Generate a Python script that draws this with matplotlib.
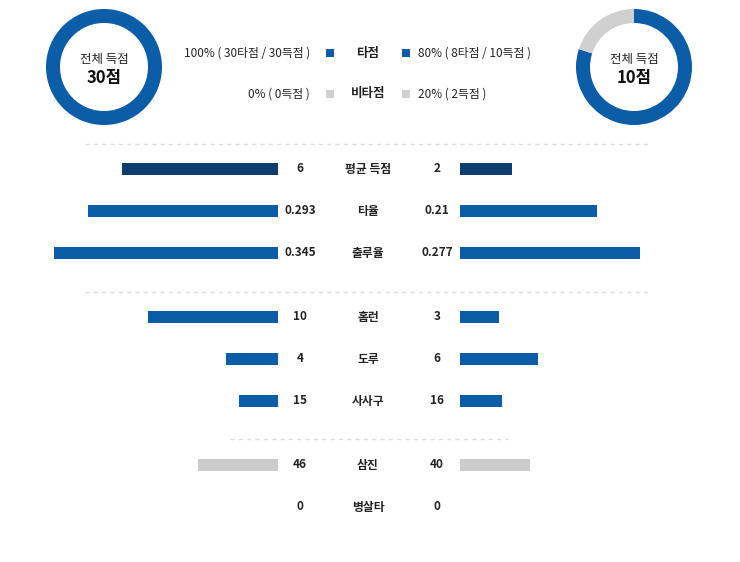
import matplotlib
matplotlib.use("Agg")
import matplotlib.pyplot as plt
from matplotlib.patches import Wedge, Rectangle

plt.rcParams['font.family'] = ['Noto Sans CJK KR', 'DejaVu Sans']

categories = ['평균 득점', '타율', '출루율', '홈런', '도루', '사사구', '삼진', '병살타']
left_vals = [6, 0.293, 0.345, 10, 4, 15, 46, 0]
right_vals = [2, 0.21, 0.277, 3, 6, 16, 40, 0]
left_labels = ['6', '0.293', '0.345', '10', '4', '15', '46', '0']
right_labels = ['2', '0.21', '0.277', '3', '6', '16', '40', '0']
row_scale = [26, 650, 650, 13, 13, 2.6, 1.75, 10]
row_y = [169, 211, 253, 317, 359, 401, 465, 507]
row_color = ['#0e3d70', '#0a5da6', '#0a5da6', '#0a5da6', '#0a5da6', '#0a5da6', '#cccccc', '#cccccc']

left_rbi = [30, 0]   # 타점, 비타점
right_rbi = [8, 2]
left_total, right_total = 30, 10
legend_left = ['100% ( 30타점 / 30득점 )', '0% ( 0득점 )']
legend_right = ['80% ( 8타점 / 10득점 )', '20% ( 2득점 )']
legend_names = ['타점', '비타점']
BLUE, GREY = '#0a5da6', '#d0d0d0'

fig = plt.figure(figsize=(7.4, 5.62), dpi=100)
ax = fig.add_axes([0, 0, 1, 1])
ax.set_xlim(0, 740); ax.set_ylim(562, 0); ax.axis('off')

def donut(cx, cy, vals, total):
    s = sum(vals); start = -90  # top of screen (y inverted); increasing angle = clockwise on screen
    for v, c in zip(vals, [BLUE, GREY]):
        if v <= 0: continue
        ang = 360 * v / s
        ax.add_patch(Wedge((cx, cy), 58, start, start + ang, width=14, color=c, lw=0))
        start += ang
    ax.text(cx, cy - 8, '전체 득점', ha='center', va='center', fontsize=9, color='#222')
    ax.text(cx, cy + 11, f'{total}점', ha='center', va='center', fontsize=12, fontweight='bold', color='#111')

donut(104, 67, left_rbi, left_total)
donut(634, 67, right_rbi, right_total)

for i, y in enumerate([53, 94]):
    c = BLUE if i == 0 else GREY
    ax.text(310, y, legend_left[i], ha='right', va='center', fontsize=8.5, color='#222')
    ax.add_patch(Rectangle((326, y - 4), 8, 8, color=c, lw=0))
    ax.text(368, y, legend_names[i], ha='center', va='center', fontsize=9, fontweight='bold', color='#222')
    ax.add_patch(Rectangle((402, y - 4), 8, 8, color=c, lw=0))
    ax.text(418, y, legend_right[i], ha='left', va='center', fontsize=8.5, color='#222')

for x0, x1, y in [(85, 650, 144), (85, 650, 292), (230, 508, 439)]:
    ax.plot([x0, x1], [y, y], ls=(0, (3, 3)), color='#dddddd', lw=1)

for i, cat in enumerate(categories):
    y = row_y[i]
    lw_ = left_vals[i] * row_scale[i]; rw_ = right_vals[i] * row_scale[i]
    if lw_ > 0:
        ax.add_patch(Rectangle((278 - lw_, y - 6), lw_, 12, color=row_color[i], lw=0))
    if rw_ > 0:
        ax.add_patch(Rectangle((460, y - 6), rw_, 12, color=row_color[i], lw=0))
    ax.text(300, y, left_labels[i], ha='center', va='center', fontsize=8.5, fontweight='bold', color='#222')
    ax.text(437, y, right_labels[i], ha='center', va='center', fontsize=8.5, fontweight='bold', color='#222')
    ax.text(368, y, cat, ha='center', va='center', fontsize=8.5, fontweight='bold', color='#222')

fig.savefig('out.png', dpi=100)
